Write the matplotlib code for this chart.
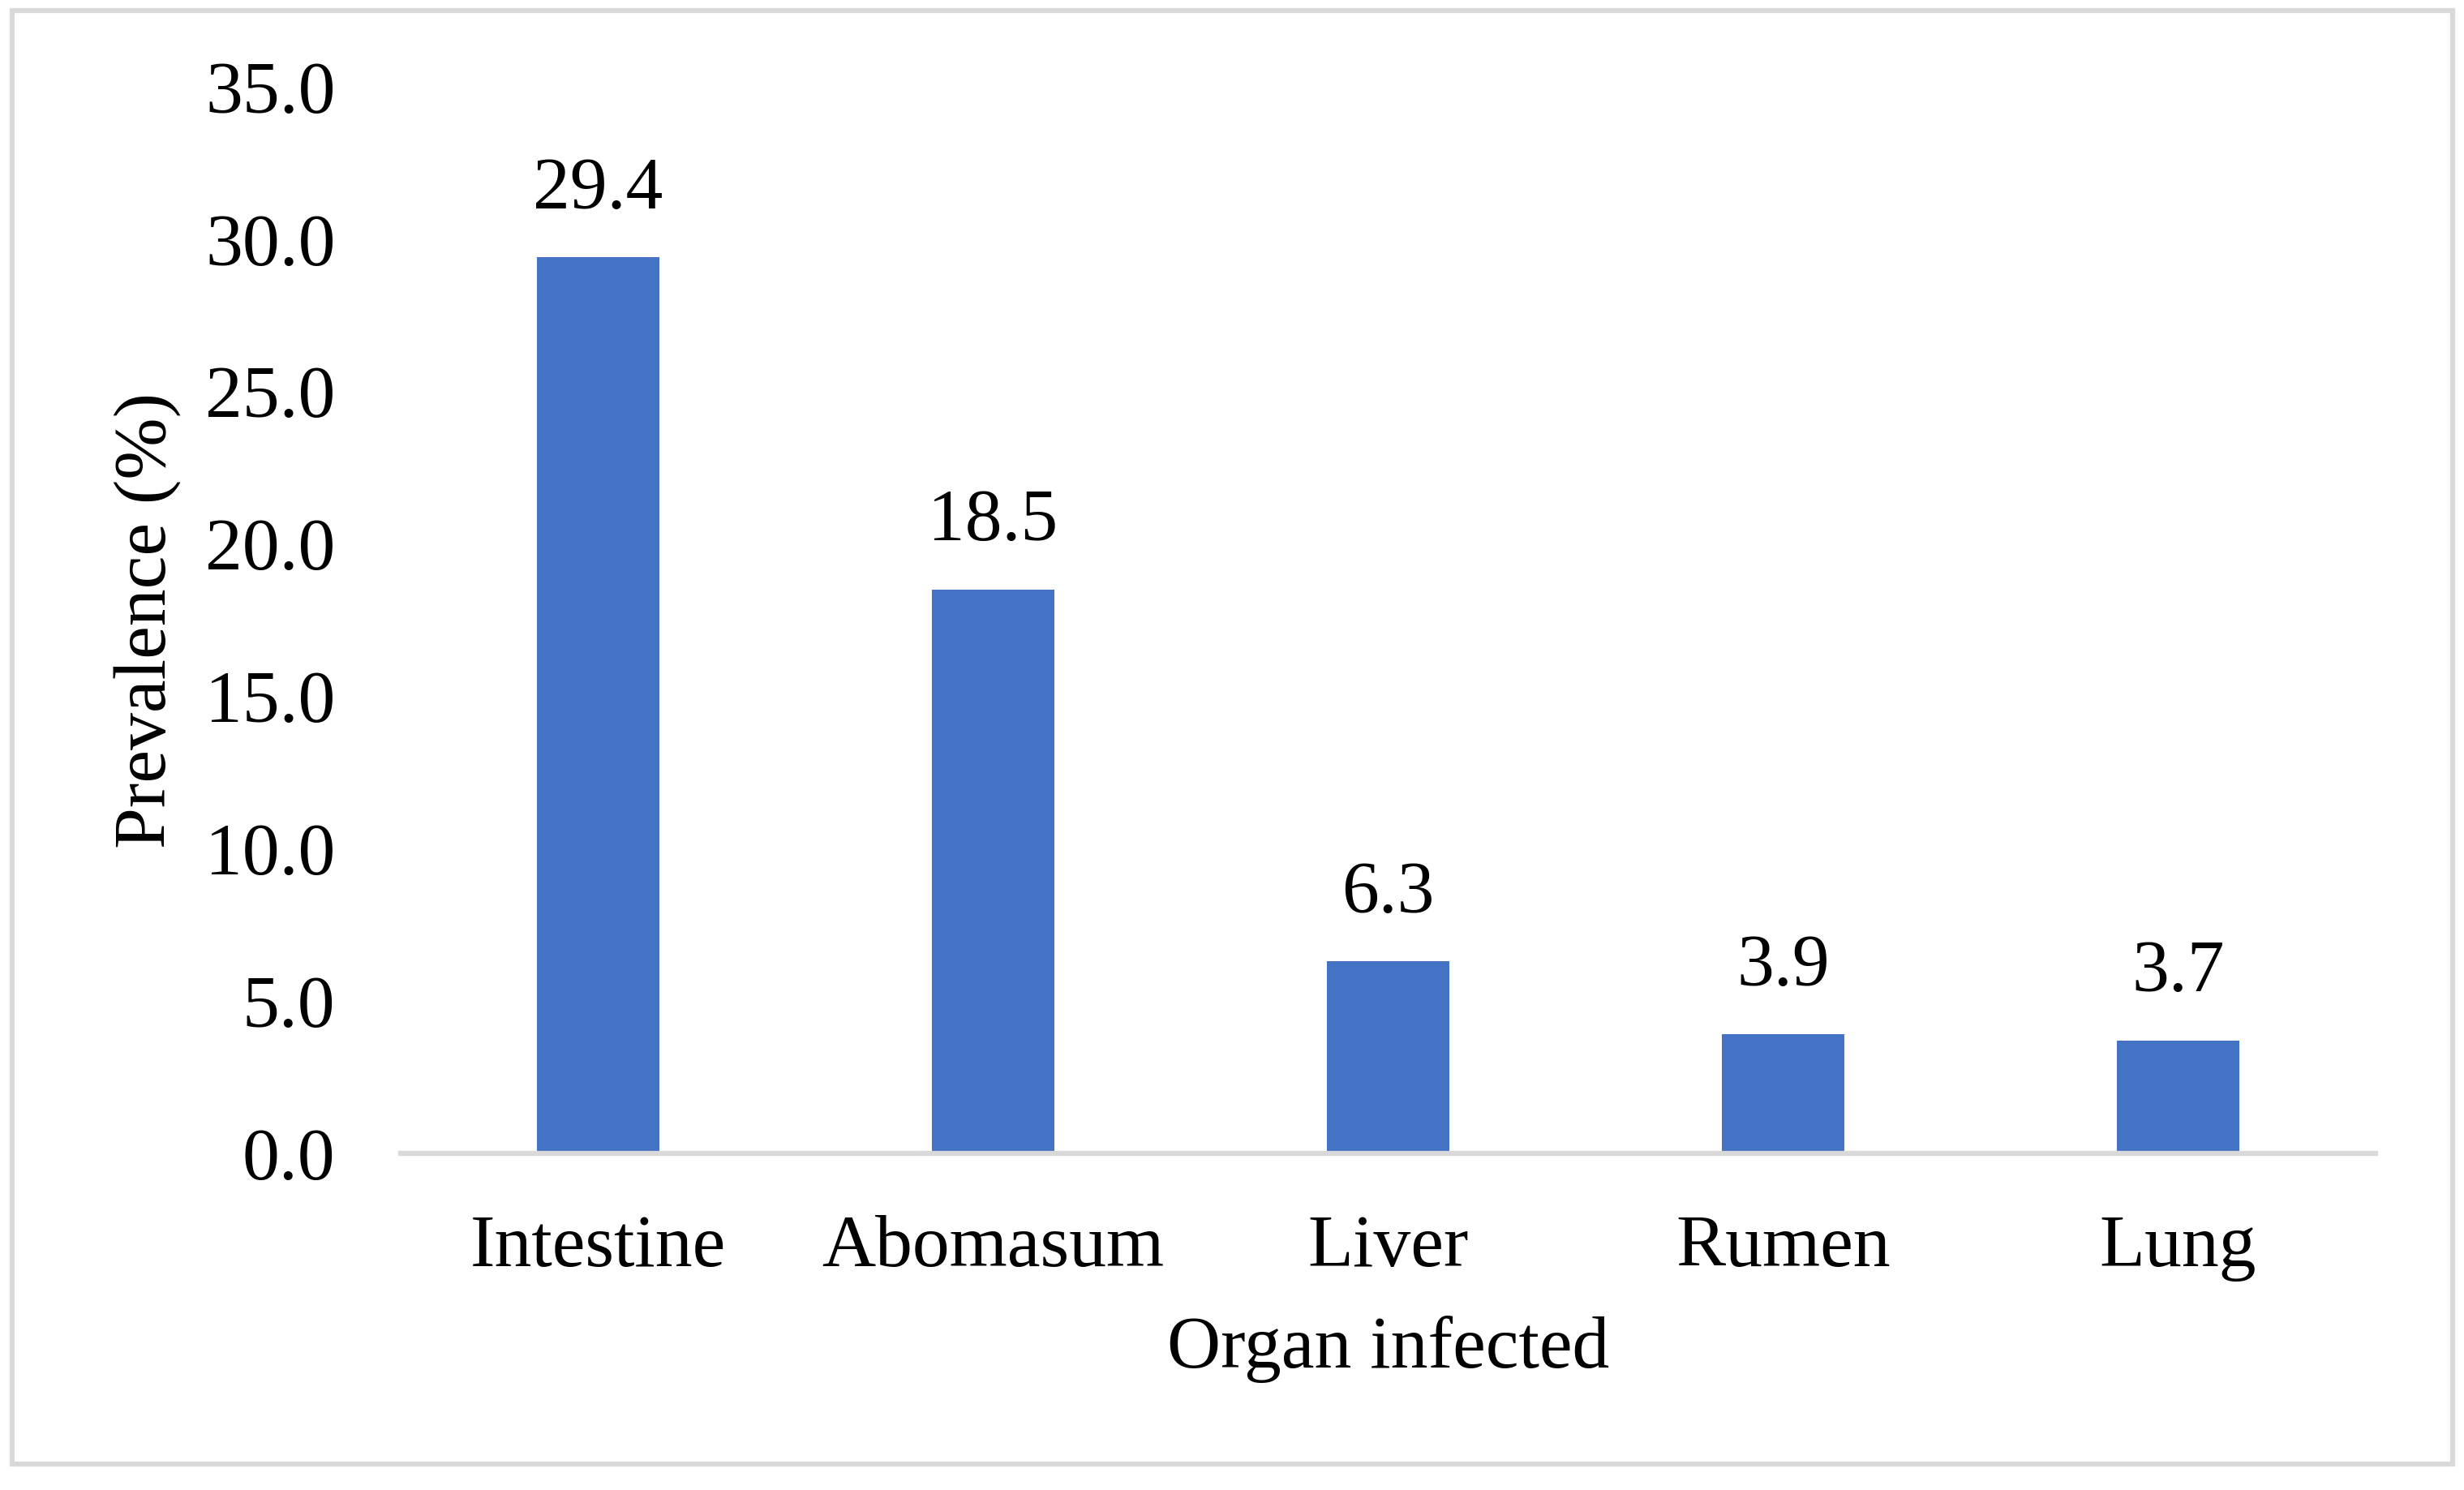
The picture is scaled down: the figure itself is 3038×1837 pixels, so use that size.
import matplotlib
matplotlib.use("Agg")
import matplotlib.pyplot as plt
from matplotlib.patches import Rectangle

organs = ["Intestine", "Abomasum", "Liver", "Rumen", "Lung"]
prevalence = [29.4, 18.5, 6.3, 3.9, 3.7]
yticks = [0.0, 5.0, 10.0, 15.0, 20.0, 25.0, 30.0, 35.0]

plt.rcParams['font.family'] = ['Liberation Serif', 'DejaVu Serif']
W, H = 3038, 1837
fig = plt.figure(figsize=(W / 100, H / 100), dpi=100)
fs = 66

ax = fig.add_axes([494 / W, 1 - 1422 / H, (2929 - 494) / W, (1422 - 107) / H])
x = list(range(len(organs)))
bars = ax.bar(x, prevalence, width=0.31, color="#4472c4", zorder=2)
ax.set_xlim(-0.5, len(organs) - 0.5)
ax.set_ylim(0, 35)
ax.set_yticks(yticks)
ax.set_yticklabels([f"{v:.1f}" for v in yticks], fontsize=fs)
ax.set_xticks(x)
ax.set_xticklabels(organs, fontsize=fs)
ax.tick_params(axis='both', length=0)
ax.tick_params(axis='y', pad=58)
ax.tick_params(axis='x', pad=54)
for s in ["top", "right", "left"]:
    ax.spines[s].set_visible(False)
ax.spines["bottom"].set_color("#d9d9d9")
ax.spines["bottom"].set_linewidth(4.5)

for b, v in zip(bars, prevalence):
    ax.annotate(f"{v:.1f}", (b.get_x() + b.get_width() / 2, v), xytext=(0, 30),
                textcoords="offset points", ha="center", va="bottom", fontsize=fs)

ax.set_ylabel("Prevalence (%)", fontsize=fs)
ax.yaxis.set_label_coords((223 - 494) / (2929 - 494), 0.5)
ax.set_xlabel("Organ infected", fontsize=fs)
ax.xaxis.set_label_coords(0.5, -(1622 - 1422) / (1422 - 107))

fig.patches.append(Rectangle((15 / W, 1 - 1805 / H), (3024 - 15) / W, (1805 - 13) / H,
                             transform=fig.transFigure, fill=False,
                             edgecolor="#d9d9d9", linewidth=4.5))

fig.savefig("out.png", dpi=100)
